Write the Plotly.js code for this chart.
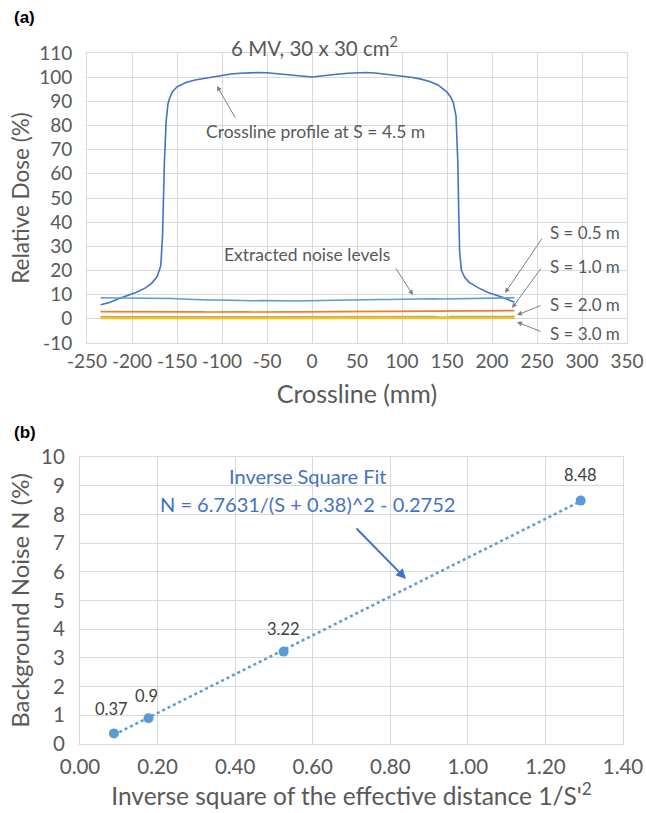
<!DOCTYPE html>
<html><head><meta charset="utf-8">
<script src="https://cdn.plot.ly/plotly-3.0.1.min.js"></script>
<style>html,body{margin:0;padding:0;background:#fff}#c{width:646px;height:813px}</style>
</head><body><div id="c"></div>
<script>
// ---- Panel (a): crossline profile at S = 4.5 m ----
var profileX = [-235,-225,-215,-205,-195,-185,-178,-172,-168,-166,-165,-164,-162,-160,-158,-155,-150,-140,-130,-120,-110,-100,-90,-80,-70,-60,-50,-40,-30,-20,-10,0,10,20,30,40,50,60,70,80,90,100,110,120,130,140,146,150,154,157,160,162,163,164,166,170,175,185,195,205,214,220,225];
var profileY = [5.8,6.8,8.3,9.6,11,12.8,14.8,17.5,22,35,50,65,82,89,91.5,94,96,97.8,98.8,99.5,100.2,100.8,101.3,101.6,101.8,101.9,101.8,101.4,101.0,100.6,100.3,100.1,100.5,101.0,101.3,101.6,101.8,101.9,101.7,101.3,100.9,100.6,100.0,99.3,98.3,96.8,95.2,93.8,91.8,89.5,84,65,45,28,20,17,15,12.8,11,9.8,8.6,7.6,7];
// extracted noise levels
var noiseX = [-235,-225,-215,-205,-195,-185,-175,-165,-155,-145,-135,-125,-115,-105,-95,-85,-75,-65,-55,-45,-35,-25,-15,-5,5,15,25,35,45,55,65,75,85,95,105,115,125,135,145,155,165,175,185,195,205,215,225];
var noiseS05 = [8.7,8.7,8.6,8.7,8.6,8.5,8.6,8.7,8.4,8.2,8.0,7.9,7.8,7.8,7.7,7.6,7.6,7.5,7.6,7.5,7.4,7.5,7.4,7.5,7.6,7.6,7.7,7.8,7.8,7.9,7.9,8.0,8.0,8.1,8.1,8.2,8.2,8.3,8.2,8.3,8.4,8.4,8.5,8.5,8.6,8.6,8.7];
var noiseS10 = [3.0,3.0,3.1,3.0,3.1,3.1,3.0,3.2,3.1,3.0,2.9,2.9,2.8,2.9,2.8,2.9,2.9,2.8,2.9,2.9,2.8,2.9,2.9,3.0,2.9,3.0,3.0,3.0,3.1,3.0,3.1,3.1,3.1,3.2,3.1,3.2,3.2,3.2,3.3,3.2,3.3,3.3,3.3,3.3,3.4,3.4,3.4];
var noiseS20 = [0.8,0.8,0.9,0.8,0.9,0.9,0.8,1.0,0.9,0.8,0.9,0.8,0.8,0.9,0.8,0.8,0.9,0.8,0.8,0.9,0.8,0.8,0.9,0.8,0.8,0.9,0.8,0.9,0.9,0.8,0.9,0.8,0.9,0.9,0.8,0.9,0.9,0.9,0.5,0.9,0.9,0.9,0.9,1.0,0.9,1.0,1.0];
var noiseS30 = [0.3,0.3,0.3,0.3,0.4,0.3,0.3,0.4,0.3,0.3,0.3,0.3,0.3,0.3,0.2,0.3,0.3,0.3,0.3,0.3,0.3,0.3,0.3,0.3,0.3,0.3,0.3,0.3,0.3,0.3,0.3,0.3,0.3,0.3,0.3,0.3,0.3,0.3,0.2,0.3,0.3,0.4,0.4,0.4,0.4,0.4,0.4];
var topXTicks = [-250,-200,-150,-100,-50,0,50,100,150,200,250,300,350];
var topXTickText = ['-250','-200','-150','-100','-50','0','50','100','150','200','250','300','350'];
var topYTicks = [-10,0,10,20,30,40,50,60,70,80,90,100,110];
var topYTickText = ['-10','0','10','20','30','40','50','60','70','80','90','100','110'];

// ---- Panel (b): background noise vs inverse square of effective distance ----
var invSq = [0.0875, 0.1765, 0.525, 1.291];
var noiseN = [0.37, 0.9, 3.22, 8.48];
var noiseLabels = ['0.37', '0.9', '3.22', '8.48'];
var fitX = [0.0875, 1.291];
var fitY = [0.32, 8.46];

var FONT = 'Lato, "Open Sans", sans-serif';
var GRID = '#D9D9D9';
var TXT = '#595959';

function px(x){return x/646;}
function py(y){return 1 - y/813;}

var traces = [
  {x: profileX, y: profileY, mode:'lines', line:{color:'#4472C4', width:1.6}, xaxis:'x', yaxis:'y'},
  {x: noiseX, y: noiseS05, mode:'lines', line:{color:'#5B9BD5', width:1.6}, xaxis:'x', yaxis:'y'},
  {x: noiseX, y: noiseS10, mode:'lines', line:{color:'#ED7D31', width:1.6}, xaxis:'x', yaxis:'y'},
  {x: noiseX, y: noiseS20, mode:'lines', line:{color:'#A5A5A5', width:1.6}, xaxis:'x', yaxis:'y'},
  {x: noiseX, y: noiseS30, mode:'lines', line:{color:'#FFC000', width:2.4}, xaxis:'x', yaxis:'y'},
  {x: fitX, y: fitY, mode:'lines', line:{color:'#5B9BD5', width:2.5, dash:'dot'}, xaxis:'x2', yaxis:'y2'},
  {x: invSq, y: noiseN, mode:'markers', marker:{color:'#5B9BD5', size:10}, xaxis:'x2', yaxis:'y2'}
];

var axBase = {showgrid:true, gridcolor:GRID, gridwidth:1, zeroline:false, showline:true, linecolor:GRID, mirror:true,
  ticks:'', tickfont:{family:FONT, size:19, color:TXT}, automargin:false, fixedrange:true};

var layout = {
  width:646, height:813, showlegend:false,
  paper_bgcolor:'#fff', plot_bgcolor:'#fff',
  margin:{l:0,r:0,t:0,b:0},
  font:{family:FONT, color:TXT},
  xaxis: Object.assign({}, axBase, {domain:[px(87), px(627)], range:[-250,350], tickvals:topXTicks, ticktext:topXTickText,
    ticklabelstandoff:1, title:{text:'Crossline (mm)', font:{family:FONT, size:25, color:TXT}, standoff:14}, anchor:'y'}),
  yaxis: Object.assign({}, axBase, {domain:[py(343), py(53)], range:[-10,110], tickvals:topYTicks, ticktext:topYTickText,
    ticklabelstandoff:10, title:{text:'Relative Dose (%)', font:{family:FONT, size:22.5, color:TXT}, standoff:3}, anchor:'x'}),
  xaxis2: Object.assign({}, axBase, {domain:[px(80), px(623)], range:[0,1.4], dtick:0.2, tickformat:'.2f', tickfont:{family:FONT, size:20.5, color:TXT},
    ticklabelstandoff:4, title:{text:"Inverse square of the effective distance 1/S'<sup>2</sup>", font:{family:FONT, size:24.5, color:TXT}, standoff:8}, anchor:'y2'}),
  yaxis2: Object.assign({}, axBase, {domain:[py(744), py(457)], range:[0,10], dtick:1, tickfont:{family:FONT, size:20.5, color:TXT},
    ticklabelstandoff:10, title:{text:'Background Noise N (%)', font:{family:FONT, size:24, color:TXT}, standoff:4}, anchor:'x2'}),
  annotations: [
    {xref:'paper', yref:'paper', x:px(12), y:py(17), xanchor:'left', yanchor:'middle', text:'<b>(a)</b>', showarrow:false, font:{family:'Liberation Sans, Arial, sans-serif', size:17, color:'#000'}},
    {xref:'paper', yref:'paper', x:px(12), y:py(432), xanchor:'left', yanchor:'middle', text:'<b>(b)</b>', showarrow:false, font:{family:'Liberation Sans, Arial, sans-serif', size:17, color:'#000'}},
    {xref:'paper', yref:'paper', x:px(314), y:py(46), xanchor:'center', yanchor:'middle', text:'6 MV, 30 x 30 cm<sup>2</sup>', showarrow:false, font:{family:FONT, size:20.5, color:TXT}},
    {xref:'paper', yref:'paper', x:px(204), y:py(131), xanchor:'left', yanchor:'middle', text:'Crossline profile at S = 4.5 m', showarrow:false, font:{family:FONT, size:17.5, color:TXT}},
    {xref:'paper', yref:'paper', x:px(222), y:py(254), xanchor:'left', yanchor:'middle', text:'Extracted noise levels', showarrow:false, font:{family:FONT, size:17.5, color:TXT}},
    {xref:'paper', yref:'paper', x:px(548), y:py(232), xanchor:'left', yanchor:'middle', text:'S = 0.5 m', showarrow:false, font:{family:FONT, size:17, color:TXT}},
    {xref:'paper', yref:'paper', x:px(548), y:py(266), xanchor:'left', yanchor:'middle', text:'S = 1.0 m', showarrow:false, font:{family:FONT, size:17, color:TXT}},
    {xref:'paper', yref:'paper', x:px(548), y:py(304), xanchor:'left', yanchor:'middle', text:'S = 2.0 m', showarrow:false, font:{family:FONT, size:17, color:TXT}},
    {xref:'paper', yref:'paper', x:px(548), y:py(333), xanchor:'left', yanchor:'middle', text:'S = 3.0 m', showarrow:false, font:{family:FONT, size:17, color:TXT}},
    // arrows (head at x,y; tail offset ax, ay in px)
    {xref:'paper', yref:'paper', x:px(217), y:py(86), ax:19, ay:33, text:'', showarrow:true, arrowhead:2, arrowsize:1, arrowwidth:1, arrowcolor:'#7F7F7F'},
    {xref:'paper', yref:'paper', x:px(413), y:py(295), ax:-18, ay:-28, text:'', showarrow:true, arrowhead:2, arrowsize:1, arrowwidth:1, arrowcolor:'#7F7F7F'},
    {xref:'paper', yref:'paper', x:px(505), y:py(293), ax:38, ay:-56, text:'', showarrow:true, arrowhead:2, arrowsize:1, arrowwidth:1, arrowcolor:'#7F7F7F'},
    {xref:'paper', yref:'paper', x:px(512), y:py(308), ax:30, ay:-41, text:'', showarrow:true, arrowhead:2, arrowsize:1, arrowwidth:1, arrowcolor:'#7F7F7F'},
    {xref:'paper', yref:'paper', x:px(517), y:py(315), ax:25, ay:-10, text:'', showarrow:true, arrowhead:2, arrowsize:1, arrowwidth:1, arrowcolor:'#7F7F7F'},
    {xref:'paper', yref:'paper', x:px(517), y:py(322), ax:25, ay:10, text:'', showarrow:true, arrowhead:2, arrowsize:1, arrowwidth:1, arrowcolor:'#7F7F7F'},
    // panel b texts
    {xref:'paper', yref:'paper', x:px(307), y:py(476), xanchor:'center', yanchor:'middle', text:'Inverse Square Fit', showarrow:false, font:{family:FONT, size:20, color:'#4472C4'}},
    {xref:'paper', yref:'paper', x:px(307), y:py(504), xanchor:'center', yanchor:'middle', text:'N = 6.7631/(S + 0.38)^2 - 0.2752', showarrow:false, font:{family:FONT, size:20, color:'#4472C4'}},
    {xref:'paper', yref:'paper', x:px(406), y:py(579), ax:-51, ay:-52, text:'', showarrow:true, arrowhead:2, arrowsize:1, arrowwidth:2, arrowcolor:'#4472C4'}
  ]
};
// data labels for panel (b) points
var lblY = [24, 22, 23, 26], lblX = [-2, -2, 0, 0];
for (var i = 0; i < invSq.length; i++) {
  layout.annotations.push({xref:'x2', yref:'y2', x:invSq[i], y:noiseN[i], yshift:lblY[i], xshift:lblX[i],
    text:noiseLabels[i], showarrow:false, font:{family:FONT, size:16.5, color:'#404040'}});
}
Plotly.newPlot('c', traces, layout, {staticPlot:true, displayModeBar:false});
</script></body></html>
